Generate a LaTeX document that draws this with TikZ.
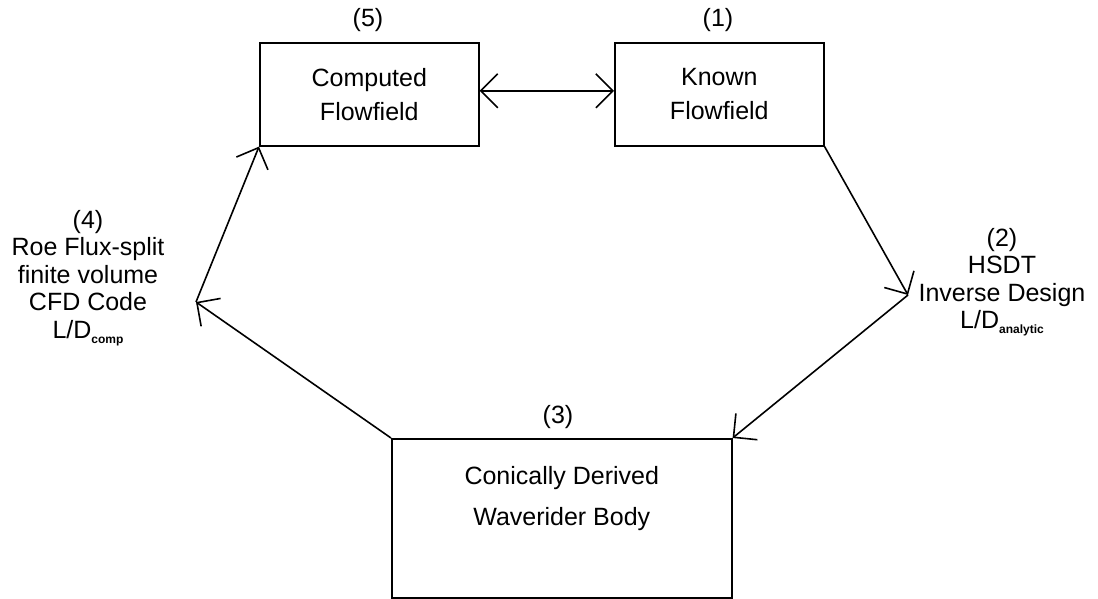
\documentclass[tikz,border=0pt]{standalone}
\usepackage{fontspec}
\setmainfont{Liberation Sans}
\usetikzlibrary{arrows.meta,calc}

\newcommand{\subtxt}[1]{\raisebox{-5pt}{\fontsize{12}{12}\selectfont\bfseries #1}}

\begin{document}
\begin{tikzpicture}[x=1pt,y=-1pt,
  line width=1.6pt,
  font=\fontsize{25}{34}\selectfont,
  stage/.style={draw, rectangle, inner sep=0pt, anchor=north west},
  tag/.style={inner sep=0pt, align=center},
  flow/.style={-{Straight Barb[length=17pt,width=34pt,line width=1.6pt]}},
  both/.style={{Straight Barb[length=17pt,width=34pt,line width=1.6pt]}-{Straight Barb[length=17pt,width=34pt,line width=1.6pt]}}
]
\useasboundingbox (0,0) rectangle (1098,598);

% stages of the design loop
\node[stage, minimum width=219pt, minimum height=103pt, align=center] (computed) at (259,42) {Computed\\Flowfield};
\node[stage, minimum width=209pt, minimum height=103pt, align=center] (known) at (614,42) {Known\\Flowfield};
\node[stage, minimum width=340pt, minimum height=159pt] (body) at (391,438) {};
\node[tag, font=\fontsize{25}{41}\selectfont] (bodytxt) at ($(body.center)+(0,-20)$) {Conically Derived\\Waverider Body};

% step numbers
\node[tag] (n5) at (368,20) {(5)};
\node[tag] (n1) at (718,20) {(1)};
\node[tag] (n3) at (558,417) {(3)};

% side annotations
\node[tag, font=\fontsize{25}{27.5}\selectfont] (n4) at (88,278)
  {(4)\\Roe Flux-split\\finite volume\\CFD Code\\L/D\subtxt{comp}};
\node[tag, font=\fontsize{25}{27.5}\selectfont] (n2) at (1002,282)
  {(2)\\HSDT\\Inverse Design\\L/D\subtxt{analytic}};

% bend points of the loop
\coordinate (c2) at (908,295);
\coordinate (c4) at (196,302);

% connectors
\draw[both] ([yshift=3.5pt]computed.east) -- ([yshift=3.5pt]known.west);
\draw[flow] (known.south east) -- (c2);
\draw[flow] (c2) -- (body.north east);
\draw[flow] (body.north west) -- (c4);
\draw[flow] (c4) -- (computed.south west);
\end{tikzpicture}
\end{document}
